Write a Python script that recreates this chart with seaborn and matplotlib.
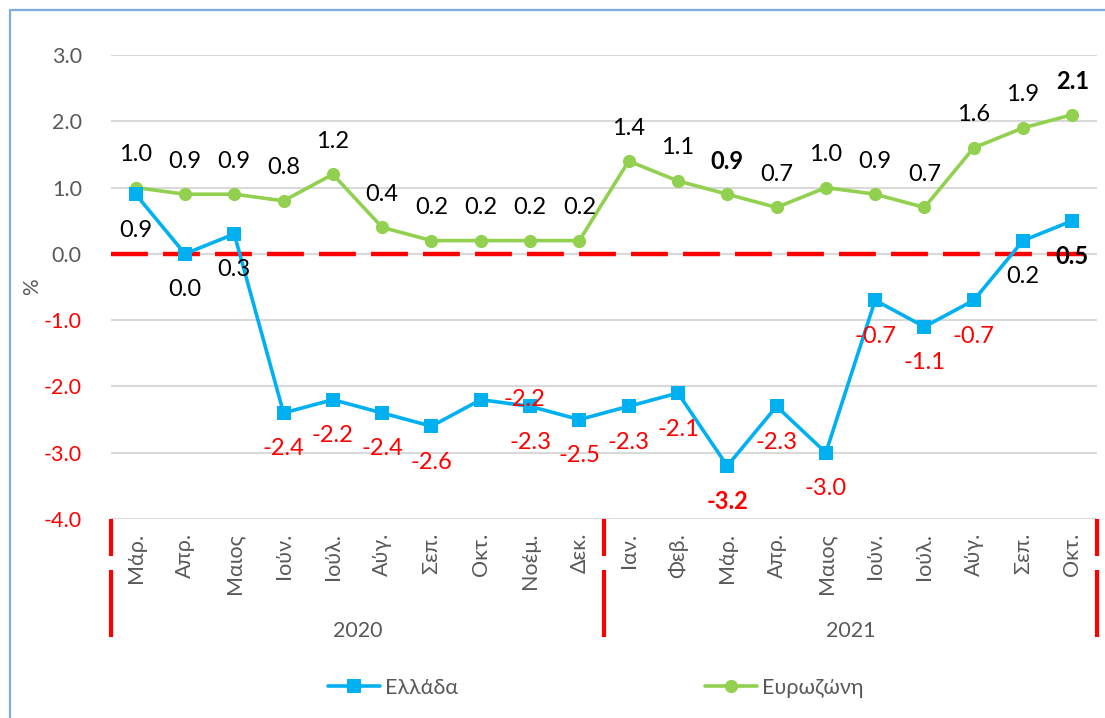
import matplotlib
matplotlib.use("Agg")
import matplotlib.pyplot as plt
import matplotlib.transforms as mtransforms
from matplotlib.lines import Line2D
import seaborn as sns
import pandas as pd

months = ["Μάρ.", "Απρ.", "Μαιος", "Ιούν.", "Ιούλ.", "Αύγ.", "Σεπ.", "Οκτ.", "Νοέμ.", "Δεκ.",
          "Ιαν.", "Φεβ.", "Μάρ.", "Απρ.", "Μαιος", "Ιούν.", "Ιούλ.", "Αύγ.", "Σεπ.", "Οκτ."]
years = ["2020", "2021"]
year_counts = [10, 10]
greece = [0.9, 0.0, 0.3, -2.4, -2.2, -2.4, -2.6, -2.2, -2.3, -2.5,
          -2.3, -2.1, -3.2, -2.3, -3.0, -0.7, -1.1, -0.7, 0.2, 0.5]
eurozone = [1.0, 0.9, 0.9, 0.8, 1.2, 0.4, 0.2, 0.2, 0.2, 0.2,
            1.4, 1.1, 0.9, 0.7, 1.0, 0.9, 0.7, 1.6, 1.9, 2.1]
bold_idx = [12, 19]
series_names = ["Ελλάδα", "Ευρωζώνη"]
yticks = [-4, -3, -2, -1, 0, 1, 2, 3]

sns.set_style("white")
plt.rcParams["font.family"] = ["Lato", "Open Sans", "DejaVu Sans"]

GRAY = "#595959"
BLUE = "#00B0F0"
GREEN = "#92D050"
RED = "#FF0000"

W, H = 1105, 718
fig = plt.figure(figsize=(W / 100, H / 100), dpi=100)
ax = fig.add_axes([111 / W, 1 - 519 / H, (1097 - 111) / W, (519 - 55) / H])

xs = list(range(len(months)))
df = pd.DataFrame({"x": xs, "Ελλάδα": greece, "Ευρωζώνη": eurozone})

ax.axhline(0, color=RED, lw=3.2, linestyle=(0, (8.3, 3.4)), zorder=1.5)

sns.lineplot(data=df, x="x", y="Ευρωζώνη", ax=ax, color=GREEN, lw=2.6,
             marker="o", markersize=9.5, markeredgewidth=0, label=series_names[1], zorder=3)
sns.lineplot(data=df, x="x", y="Ελλάδα", ax=ax, color=BLUE, lw=2.6,
             marker="s", markersize=10, markeredgewidth=0, label=series_names[0], zorder=4)

ax.set_xlim(-0.5, len(months) - 0.5)
ax.set_ylim(-4, 3)
ax.set_xlabel("")
ax.set_ylabel("")
for s in ax.spines.values():
    s.set_visible(False)
ax.set_yticks(yticks)
ax.set_yticklabels([f"{v:.1f}" for v in yticks], fontsize=15.5)
for lab, v in zip(ax.get_yticklabels(), yticks):
    lab.set_color(RED if v < 0 else GRAY)
ax.yaxis.grid(True, color="#D9D9D9", lw=1.5, zorder=0)
ax.xaxis.grid(False)
ax.tick_params(axis="y", length=0, pad=21)
ax.set_xticks(xs)
ax.set_xticklabels(months, rotation=90, fontsize=15.5, color=GRAY)
ax.tick_params(axis="x", length=0, pad=10)
ax.set_axisbelow(True)

# data labels
for i, v in enumerate(eurozone):
    ax.annotate(f"{v:.1f}", (i, v), xytext=(0, 23.8), textcoords="offset points",
                ha="center", va="center", fontsize=17, color="black",
                fontweight="bold" if i in bold_idx else "normal", zorder=6)
for i, v in enumerate(greece):
    off = (31.7, 0) if i == 7 else (0, -25.9)
    ax.annotate(f"{v:.1f}", (i, v), xytext=off, textcoords="offset points",
                ha="center", va="center", fontsize=17, color=RED if v < 0 else "black",
                fontweight="bold" if i in bold_idx else "normal", zorder=6)

# category separators and year labels
tr = mtransforms.blended_transform_factory(ax.transData, fig.transFigure)
edges = [-0.5]
for c in year_counts:
    edges.append(edges[-1] + c)
for e in edges:
    for y0, y1 in [(519, 556), (570, 637)]:
        ax.add_line(Line2D([e, e], [1 - y0 / H, 1 - y1 / H], transform=tr, color=RED,
                           lw=3, clip_on=False, solid_capstyle="butt"))
for k, yr in enumerate(years):
    ax.text((edges[k] + edges[k + 1]) / 2, 1 - 631 / H, yr, transform=tr,
            ha="center", va="center", fontsize=15.5, color=GRAY)

fig.text(32 / W, 1 - 287 / H, "%", rotation=90, ha="center", va="center", fontsize=15, color=GRAY)

# legend
ax.get_legend().remove()
handles = {h.get_label(): h for h in ax.get_lines() if h.get_label() in series_names}
for name, xpos in [(series_names[0], 328), (series_names[1], 705)]:
    h = handles[name]
    lh = Line2D([], [], color=h.get_color(), lw=2.6, marker=h.get_marker(),
                markersize=h.get_markersize(), markeredgewidth=0)
    fig.legend([lh], [name], loc="center left", bbox_to_anchor=(xpos / W, 1 - 688 / H),
               frameon=False, fontsize=15.5, handlelength=2.4, handletextpad=0.25,
               borderpad=0, borderaxespad=0, labelcolor=GRAY)

# figure border (left and top)
fig.add_artist(Line2D([10 / W, 10 / W], [0, 1 - 10 / H], transform=fig.transFigure,
                      color="#7DADE0", lw=1.6))
fig.add_artist(Line2D([10 / W, 1], [1 - 10 / H, 1 - 10 / H], transform=fig.transFigure,
                      color="#7DADE0", lw=1.6))

fig.savefig("out.png", dpi=100)
